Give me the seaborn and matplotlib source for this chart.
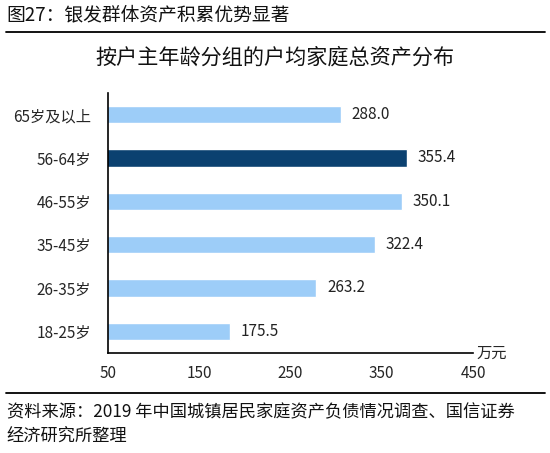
import matplotlib
matplotlib.use("Agg")
import matplotlib.pyplot as plt
import seaborn as sns
import pandas as pd
import numpy as np

categories = ["65岁及以上", "56-64岁", "46-55岁", "35-45岁", "26-35岁", "18-25岁"]
values = [288.0, 355.4, 350.1, 322.4, 263.2, 175.5]
bar_colors = ["#9DCDF8", "#0B4170", "#9DCDF8", "#9DCDF8", "#9DCDF8", "#9DCDF8"]
xtick_labels = ["50", "150", "250", "350", "450"]

sns.set_theme(style="white")
plt.rcParams['font.family'] = ['Noto Sans CJK SC', 'DejaVu Sans']

df = pd.DataFrame({"cat": categories, "val": values})

fig = plt.figure(figsize=(5.5, 4.53), dpi=100)
ax = fig.add_axes([0.1964, 0.2208, 0.6636, 0.5739])

sns.barplot(data=df, x="val", y="cat", hue="cat", palette=bar_colors,
            legend=False, width=0.4, ax=ax, saturation=1)

# axis range as it appears in the reference picture
x_lo, x_hi = 51.5, 422.5
ax.set_xlim(x_lo, x_hi)
ax.set_ylim(5.5, -0.5)
ax.set_xlabel("")
ax.set_ylabel("")
ax.set_xticks(np.linspace(x_lo, x_hi, len(xtick_labels)))
ax.set_xticklabels(xtick_labels, fontsize=11)
ax.tick_params(axis='x', direction='in', length=5, width=1, color='black', pad=9)
ax.tick_params(axis='y', which='major', length=0, pad=12, labelsize=11)
ax.set_yticks(np.arange(-0.5, 5.6, 1.0), minor=True)
ax.tick_params(axis='y', which='minor', direction='in', length=4, width=1, color='black')

for s in ["top", "right"]:
    ax.spines[s].set_visible(False)
for s in ["left", "bottom"]:
    ax.spines[s].set_color("black")
    ax.spines[s].set_linewidth(1.2)

for i, v in enumerate(values):
    ax.text(v + 11, i, f"{v:.1f}", va="center", ha="left", fontsize=11, color="#222222")

ax.text(1.01, 0.0, "万元", transform=ax.transAxes, ha="left", va="center", fontsize=11)

fig.text(0.012, 0.968, "图27：银发群体资产积累优势显著", ha="left", va="center", fontsize=13.5, color="#111111")
fig.add_artist(plt.Line2D([0.01, 0.99], [0.93, 0.93], color="black", lw=1.3, transform=fig.transFigure))
fig.text(0.5, 0.872, "按户主年龄分组的户均家庭总资产分布", ha="center", va="center", fontsize=15.2, color="#111111")
fig.add_artist(plt.Line2D([0.01, 0.99], [0.1325, 0.1325], color="black", lw=1.3, transform=fig.transFigure))
fig.text(0.012, 0.09, "资料来源：2019 年中国城镇居民家庭资产负债情况调查、国信证券", ha="left", va="center", fontsize=12.4, color="#111111")
fig.text(0.012, 0.035, "经济研究所整理", ha="left", va="center", fontsize=12.4, color="#111111")

fig.savefig("out.png", dpi=100, facecolor="white")
